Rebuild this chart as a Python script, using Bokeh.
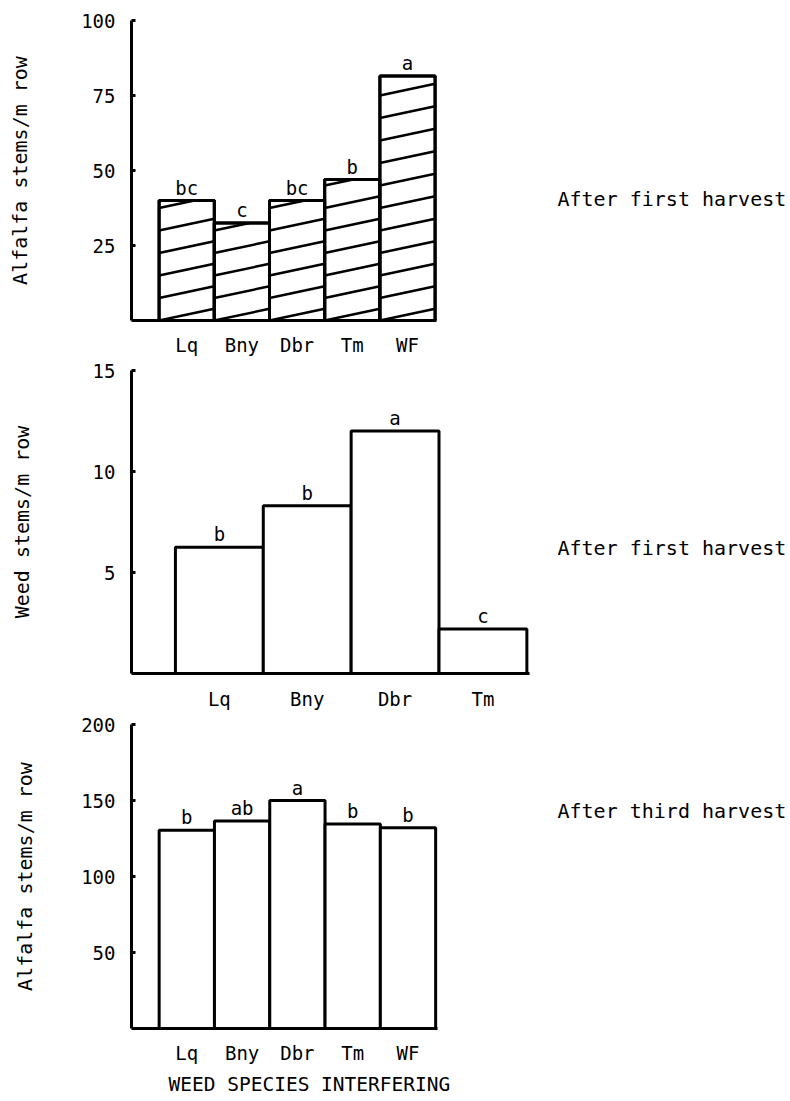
import numpy as np
from bokeh.plotting import figure
from bokeh.layouts import column, row
from bokeh.models import FixedTicker, Range1d, Title
from bokeh.embed import file_html
from bokeh.resources import INLINE
from bokeh.core.properties import value

# ---------------- data ----------------
species_all = ["Lq", "Bny", "Dbr", "Tm", "WF"]
species_weed = ["Lq", "Bny", "Dbr", "Tm"]

alfalfa_first = [40, 32.5, 40, 47, 81.5]
alfalfa_first_letters = ["bc", "c", "bc", "b", "a"]

weed_first = [6.25, 8.3, 12, 2.2]
weed_first_letters = ["b", "b", "a", "c"]

alfalfa_third = [130.5, 136.5, 150, 134.5, 132]
alfalfa_third_letters = ["b", "ab", "a", "b", "b"]

y1_ticks = [25, 50, 75, 100]
y2_ticks = [5, 10, 15]
y3_ticks = [50, 100, 150, 200]

y_titles = ["Alfalfa stems/m row", "Weed stems/m row", "Alfalfa stems/m row"]
x_title = "WEED SPECIES INTERFERING"
panel_notes = ["After first harvest", "After first harvest", "After third harvest"]

# ---------------- style ----------------
FONT = "DejaVu Sans Mono"
FS = "19px"
CHART_W = 540
NOTE_W = 790 - CHART_W
B_LEFT = 131
FRAME_W = 398
HATCH_STEP = 7.5
HATCH_RISE = 3.9


def hatch_segments(xs, tops):
    x0, y0, x1, y1 = [], [], [], []
    for xc, t in zip(xs, tops):
        xl = xc - 0.5
        k = 0
        while k * HATCH_STEP < t:
            yl = k * HATCH_STEP
            yr = yl + HATCH_RISE
            if yr <= t:
                xe, ye = xl + 1.0, yr
            else:
                xe, ye = xl + (t - yl) / HATCH_RISE, t
            x0.append(xl); y0.append(yl); x1.append(xe); y1.append(ye)
            k += 1
    return x0, y0, x1, y1


def make_panel(cats, vals, letters, yticks, ymax, ylabel, unit_px, frame_h,
               b_top, b_bottom, xlab_standoff, ylab_standoff, hatch=False):
    n = len(cats)
    xs = list(range(1, n + 1))
    b_right = CHART_W - B_LEFT - FRAME_W
    p = figure(width=CHART_W, height=b_top + frame_h + b_bottom,
               x_range=Range1d(0, FRAME_W / unit_px), y_range=Range1d(0, ymax),
               output_backend="svg", toolbar_location=None,
               min_border_left=B_LEFT, min_border_right=b_right,
               min_border_top=b_top, min_border_bottom=b_bottom)
    p.grid.visible = False
    p.outline_line_color = None
    p.background_fill_color = "white"
    p.border_fill_color = "white"

    p.vbar(x=xs, width=1.0, bottom=0, top=vals, fill_color="white",
           line_color="black", line_width=3)
    if hatch:
        x0, y0, x1, y1 = hatch_segments(xs, vals)
        p.segment(x0=x0, y0=y0, x1=x1, y1=y1, line_color="black", line_width=2.5)
        p.vbar(x=xs, width=1.0, bottom=0, top=vals, fill_color=None,
               line_color="black", line_width=3)

    p.text(x=xs, y=vals, text=letters, text_align="center",
           text_baseline="bottom", y_offset=-2,
           text_font=value(FONT), text_font_size=FS, text_color="black")

    xa = p.xaxis[0]
    xa.bounds = (0, n + 0.53)
    xa.ticker = FixedTicker(ticks=xs)
    xa.major_label_overrides = {x: c for x, c in zip(xs, cats)}
    xa.major_tick_line_color = None
    xa.minor_tick_line_color = None
    xa.axis_line_width = 3
    xa.axis_line_color = "black"
    xa.major_label_standoff = xlab_standoff
    xa.major_label_text_font = FONT
    xa.major_label_text_font_size = FS
    xa.major_label_text_color = "black"

    ya = p.yaxis[0]
    ya.ticker = FixedTicker(ticks=yticks)
    ya.major_tick_in = 4
    ya.major_tick_out = 0
    ya.major_tick_line_width = 3
    ya.major_tick_line_color = "black"
    ya.minor_tick_line_color = None
    ya.axis_line_width = 3
    ya.axis_line_color = "black"
    ya.major_label_standoff = 16
    ya.major_label_text_font = FONT
    ya.major_label_text_font_size = FS
    ya.major_label_text_color = "black"
    ya.axis_label = ylabel
    ya.axis_label_text_font = FONT
    ya.axis_label_text_font_size = "20px"
    ya.axis_label_text_font_style = "normal"
    ya.axis_label_text_color = "black"
    ya.axis_label_standoff = ylab_standoff
    return p


p1 = make_panel(species_all, alfalfa_first, alfalfa_first_letters, y1_ticks, 100,
                y_titles[0], unit_px=55.2, frame_h=300, b_top=20, b_bottom=38,
                xlab_standoff=7, ylab_standoff=46, hatch=True)
p2 = make_panel(species_weed, weed_first, weed_first_letters, y2_ticks, 15,
                y_titles[1], unit_px=FRAME_W / 4.53, frame_h=303, b_top=12, b_bottom=39,
                xlab_standoff=8, ylab_standoff=56)
p3 = make_panel(species_all, alfalfa_third, alfalfa_third_letters, y3_ticks, 200,
                y_titles[2], unit_px=55.3, frame_h=304, b_top=12, b_bottom=73,
                xlab_standoff=7, ylab_standoff=41)

# x-axis title below the bottom panel
p3.add_layout(Title(text=x_title, align="left", offset=37, standoff=8,
                    text_font=FONT, text_font_size="19.5px",
                    text_font_style="normal", text_color="black"), "below")

note = figure(width=NOTE_W, height=1101, x_range=Range1d(0, NOTE_W),
              y_range=Range1d(1101, 0), output_backend="svg",
              toolbar_location=None, x_axis_location=None, y_axis_location=None,
              min_border=0)
note.grid.visible = False
note.outline_line_color = None
note.text(x=[17, 17, 17], y=[198, 547, 810], text=panel_notes,
          text_baseline="middle", text_align="left",
          text_font=value(FONT), text_font_size="20px", text_color="black")

layout = row(column(p1, p2, p3), note)
open("out.html", "w").write(file_html(layout, INLINE))
